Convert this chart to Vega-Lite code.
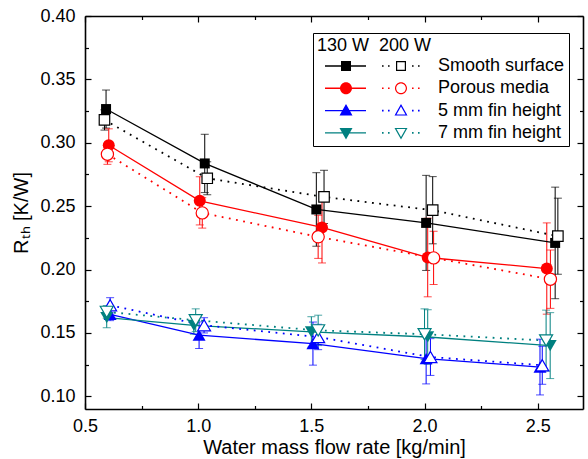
{
  "$schema": "https://vega.github.io/schema/vega-lite/v6.json",
  "width": 498,
  "height": 393,
  "autosize": {"type": "none"},
  "padding": {"left": 85, "top": 16, "right": 5, "bottom": 50},
  "background": "white",
  "config": {
    "font": "Liberation Sans",
    "view": {"stroke": null},
    "axis": {"grid": false, "domainColor": "black", "tickColor": "black", "labelColor": "black", "titleColor": "black", "labelFontSize": 18, "titleFontSize": 20, "titleFontWeight": "normal", "domainWidth": 1.6, "tickWidth": 1.2, "labelFlush": false, "labelFont": "Liberation Sans", "titleFont": "Liberation Sans"}
  },
  "data": {
    "values": [
      {"series": "Smooth surface", "p": "130", "x": 0.593, "y": 0.3266, "e": 0.015},
      {"series": "Smooth surface", "p": "130", "x": 1.029, "y": 0.2837, "e": 0.023},
      {"series": "Smooth surface", "p": "130", "x": 1.522, "y": 0.2474, "e": 0.029},
      {"series": "Smooth surface", "p": "130", "x": 2.007, "y": 0.2368, "e": 0.0375},
      {"series": "Smooth surface", "p": "130", "x": 2.577, "y": 0.221, "e": 0.044},
      {"series": "Smooth surface", "p": "200", "x": 0.586, "y": 0.318, "e": 0.008},
      {"series": "Smooth surface", "p": "200", "x": 1.04, "y": 0.272, "e": 0.013},
      {"series": "Smooth surface", "p": "200", "x": 1.556, "y": 0.2573, "e": 0.021},
      {"series": "Smooth surface", "p": "200", "x": 2.036, "y": 0.2468, "e": 0.0265},
      {"series": "Smooth surface", "p": "200", "x": 2.589, "y": 0.2263, "e": 0.03},
      {"series": "Porous media", "p": "130", "x": 0.605, "y": 0.298, "e": 0.013},
      {"series": "Porous media", "p": "130", "x": 1.007, "y": 0.2542, "e": 0.019},
      {"series": "Porous media", "p": "130", "x": 1.547, "y": 0.2332, "e": 0.028},
      {"series": "Porous media", "p": "130", "x": 2.014, "y": 0.2095, "e": 0.031},
      {"series": "Porous media", "p": "130", "x": 2.54, "y": 0.2008, "e": 0.036},
      {"series": "Porous media", "p": "200", "x": 0.599, "y": 0.291, "e": 0.008},
      {"series": "Porous media", "p": "200", "x": 1.018, "y": 0.2447, "e": 0.012},
      {"series": "Porous media", "p": "200", "x": 1.53, "y": 0.2258, "e": 0.017},
      {"series": "Porous media", "p": "200", "x": 2.04, "y": 0.2092, "e": 0.021},
      {"series": "Porous media", "p": "200", "x": 2.556, "y": 0.1924, "e": 0.023},
      {"series": "5 mm fin height", "p": "130", "x": 0.611, "y": 0.1647, "e": 0.005},
      {"series": "5 mm fin height", "p": "130", "x": 1.004, "y": 0.1482, "e": 0.0105},
      {"series": "5 mm fin height", "p": "130", "x": 1.507, "y": 0.1416, "e": 0.017},
      {"series": "5 mm fin height", "p": "130", "x": 2.007, "y": 0.1298, "e": 0.02},
      {"series": "5 mm fin height", "p": "130", "x": 2.51, "y": 0.1231, "e": 0.022},
      {"series": "5 mm fin height", "p": "200", "x": 0.611, "y": 0.1718, "e": 0.006},
      {"series": "5 mm fin height", "p": "200", "x": 1.026, "y": 0.156, "e": 0.006},
      {"series": "5 mm fin height", "p": "200", "x": 1.53, "y": 0.1468, "e": 0.01},
      {"series": "5 mm fin height", "p": "200", "x": 2.026, "y": 0.131, "e": 0.0145},
      {"series": "5 mm fin height", "p": "200", "x": 2.52, "y": 0.1245, "e": 0.015},
      {"series": "7 mm fin height", "p": "130", "x": 0.596, "y": 0.1621, "e": 0.008},
      {"series": "7 mm fin height", "p": "130", "x": 0.981, "y": 0.156, "e": 0.007},
      {"series": "7 mm fin height", "p": "130", "x": 1.5, "y": 0.1508, "e": 0.012},
      {"series": "7 mm fin height", "p": "130", "x": 2.014, "y": 0.1468, "e": 0.0215},
      {"series": "7 mm fin height", "p": "130", "x": 2.555, "y": 0.14, "e": 0.026},
      {"series": "7 mm fin height", "p": "200", "x": 0.596, "y": 0.1666, "e": 0.005},
      {"series": "7 mm fin height", "p": "200", "x": 0.989, "y": 0.16, "e": 0.009},
      {"series": "7 mm fin height", "p": "200", "x": 1.53, "y": 0.152, "e": 0.012},
      {"series": "7 mm fin height", "p": "200", "x": 2.0, "y": 0.149, "e": 0.02},
      {"series": "7 mm fin height", "p": "200", "x": 2.537, "y": 0.144, "e": 0.024}
    ]
  },
  "resolve": {"axis": {"x": "independent", "y": "independent"}},
  "layer": [
    {
      "mark": {"type": "errorbar", "ticks": {"size": 8}, "thickness": 1},
      "encoding": {
        "x": {"field": "x", "type": "quantitative", "scale": {"domain": [0.5, 2.7], "nice": false, "zero": false}, "axis": null},
        "y": {"field": "y", "type": "quantitative", "scale": {"domain": [0.09, 0.4], "nice": false, "zero": false}, "axis": null},
        "yError": {"field": "e"},
        "color": {
          "field": "series", "type": "nominal",
          "scale": {"domain": ["Smooth surface", "Porous media", "5 mm fin height", "7 mm fin height"], "range": ["#000000", "#ff0000", "#0000ff", "#008080"]},
          "legend": {
            "orient": "none", "legendX": 228, "legendY": 17,
            "title": "130 W\u00a0 200 W",
            "titleFontSize": 18, "titleFontWeight": "normal", "titleColor": "black", "titleFont": "Liberation Sans", "titlePadding": 2,
            "labelFont": "Liberation Sans", "labelFontSize": 18, "labelColor": "black", "labelLimit": 300,
            "symbolSize": 4, "symbolStrokeWidth": 0, "symbolOffset": -1, "labelOffset": 104, "rowPadding": 4.3,
            "padding": 4, "strokeColor": "black", "fillColor": "white",
            "encode": {
              "symbols": {
                "update": {
                  "shape": {"signal": "datum.value === 'Smooth surface' ? 'M0,-0.7H41V0.7H0Z M16,-5H26V5H16Z M57,-0.8h1.6v1.6h-1.6Z M63,-0.8h1.6v1.6h-1.6Z M87,-0.8h1.6v1.6h-1.6Z M93,-0.8h1.6v1.6h-1.6Z M71,-5H81V5H71Z M72.2,-3.8V3.8H79.8V-3.8Z' : datum.value === 'Porous media' ? 'M0,-0.7H41V0.7H0Z M15,0A6 6 0 1 1 27,0A6 6 0 1 1 15,0Z M57,-0.8h1.6v1.6h-1.6Z M63,-0.8h1.6v1.6h-1.6Z M87,-0.8h1.6v1.6h-1.6Z M93,-0.8h1.6v1.6h-1.6Z M70,0A6 6 0 1 1 82,0A6 6 0 1 1 70,0Z M71.2,0A4.8 4.8 0 1 0 80.8,0A4.8 4.8 0 1 0 71.2,0Z' : datum.value === '5 mm fin height' ? 'M0,-0.7H41V0.7H0Z M21,-6.5L27.5,5H14.5Z M57,-0.8h1.6v1.6h-1.6Z M63,-0.8h1.6v1.6h-1.6Z M87,-0.8h1.6v1.6h-1.6Z M93,-0.8h1.6v1.6h-1.6Z M76,-6.5L82.5,5H69.5Z M76,-4.1L71.5,3.8H80.5Z' : 'M0,-0.7H41V0.7H0Z M14.5,-5H27.5L21,6.5Z M57,-0.8h1.6v1.6h-1.6Z M63,-0.8h1.6v1.6h-1.6Z M87,-0.8h1.6v1.6h-1.6Z M93,-0.8h1.6v1.6h-1.6Z M69.5,-5H82.5L76,6.5Z M71.5,-3.8L76,4.1L80.5,-3.8Z'"},
                  "fill": {"scale": "color", "field": "value"},
                  "fillOpacity": {"value": 1},
                  "opacity": {"value": 1}
                }
              }
            }
          }
        }
      }
    },
    {
      "transform": [{"filter": "datum.p === '130'"}],
      "mark": {"type": "line", "strokeWidth": 1.3},
      "encoding": {
        "x": {"field": "x", "type": "quantitative", "axis": {"orient": "bottom", "values": [0.5, 1, 1.5, 2, 2.5], "format": ".1f", "tickSize": -6, "labelPadding": 14, "title": "Water mass flow rate [kg/min]", "titlePadding": 2}},
        "y": {"field": "y", "type": "quantitative", "axis": {"orient": "left", "values": [0.1, 0.15, 0.2, 0.25, 0.3, 0.35, 0.4], "format": ".2f", "tickSize": -6, "labelPadding": 16, "title": "Rₜₕ [K/W]", "titlePadding": 8}},
        "color": {"field": "series", "type": "nominal"},
        "detail": {"field": "series"}
      }
    },
    {
      "transform": [{"filter": "datum.p === '200'"}],
      "mark": {"type": "line", "strokeWidth": 1.8, "strokeDash": [1.8, 5.5], "strokeCap": "butt"},
      "encoding": {
        "x": {"field": "x", "type": "quantitative", "axis": {"orient": "top", "values": [0.5, 1, 1.5, 2, 2.5], "tickSize": -6, "labels": false, "title": null}},
        "y": {"field": "y", "type": "quantitative", "axis": {"orient": "right", "values": [0.1, 0.15, 0.2, 0.25, 0.3, 0.35, 0.4], "tickSize": -6, "labels": false, "title": null}},
        "color": {"field": "series", "type": "nominal"},
        "detail": {"field": "series"}
      }
    },
    {
      "transform": [{"filter": "datum.p === '130' && datum.series === 'Smooth surface'"}],
      "mark": {"type": "point", "shape": "square", "size": 100, "filled": true, "color": "#000000", "opacity": 1},
      "encoding": {
        "x": {"field": "x", "type": "quantitative", "axis": {"orient": "bottom", "values": [0.75, 1.25, 1.75, 2.25], "tickSize": -3.5, "labels": false, "domain": false, "title": null}},
        "y": {"field": "y", "type": "quantitative", "axis": {"orient": "left", "values": [0.125, 0.175, 0.225, 0.275, 0.325, 0.375], "tickSize": -3.5, "labels": false, "domain": false, "title": null}}
      }
    },
    {
      "transform": [{"filter": "datum.p === '200' && datum.series === 'Smooth surface'"}],
      "mark": {"type": "point", "shape": "square", "size": 110, "filled": false, "fill": "white", "stroke": "#000000", "strokeWidth": 1.2, "opacity": 1},
      "encoding": {
        "x": {"field": "x", "type": "quantitative", "axis": {"orient": "top", "values": [0.75, 1.25, 1.75, 2.25], "tickSize": -3.5, "labels": false, "domain": false, "title": null}},
        "y": {"field": "y", "type": "quantitative", "axis": {"orient": "right", "values": [0.125, 0.175, 0.225, 0.275, 0.325, 0.375], "tickSize": -3.5, "labels": false, "domain": false, "title": null}}
      }
    },
    {
      "transform": [{"filter": "datum.p === '130' && datum.series === 'Porous media'"}],
      "mark": {"type": "point", "shape": "circle", "size": 144, "filled": true, "color": "#ff0000", "opacity": 1},
      "encoding": {
        "x": {"field": "x", "type": "quantitative", "axis": null},
        "y": {"field": "y", "type": "quantitative", "axis": null}
      }
    },
    {
      "transform": [{"filter": "datum.p === '200' && datum.series === 'Porous media'"}],
      "mark": {"type": "point", "shape": "circle", "size": 150, "filled": false, "fill": "white", "stroke": "#ff0000", "strokeWidth": 1.2, "opacity": 1},
      "encoding": {
        "x": {"field": "x", "type": "quantitative", "axis": null},
        "y": {"field": "y", "type": "quantitative", "axis": null}
      }
    },
    {
      "transform": [{"filter": "datum.p === '130' && datum.series === '5 mm fin height'"}],
      "mark": {"type": "point", "shape": "triangle-up", "size": 169, "filled": true, "color": "#0000ff", "opacity": 1},
      "encoding": {
        "x": {"field": "x", "type": "quantitative", "axis": null},
        "y": {"field": "y", "type": "quantitative", "axis": null}
      }
    },
    {
      "transform": [{"filter": "datum.p === '200' && datum.series === '5 mm fin height'"}],
      "mark": {"type": "point", "shape": "triangle-up", "size": 169, "filled": false, "fill": "white", "stroke": "#0000ff", "strokeWidth": 1.2, "opacity": 1},
      "encoding": {
        "x": {"field": "x", "type": "quantitative", "axis": null},
        "y": {"field": "y", "type": "quantitative", "axis": null}
      }
    },
    {
      "transform": [{"filter": "datum.p === '130' && datum.series === '7 mm fin height'"}],
      "mark": {"type": "point", "shape": "triangle-down", "size": 169, "filled": true, "color": "#008080", "opacity": 1},
      "encoding": {
        "x": {"field": "x", "type": "quantitative", "axis": null},
        "y": {"field": "y", "type": "quantitative", "axis": null}
      }
    },
    {
      "transform": [{"filter": "datum.p === '200' && datum.series === '7 mm fin height'"}],
      "mark": {"type": "point", "shape": "triangle-down", "size": 169, "filled": false, "fill": "white", "stroke": "#008080", "strokeWidth": 1.2, "opacity": 1},
      "encoding": {
        "x": {"field": "x", "type": "quantitative", "axis": null},
        "y": {"field": "y", "type": "quantitative", "axis": null}
      }
    }
  ]
}
